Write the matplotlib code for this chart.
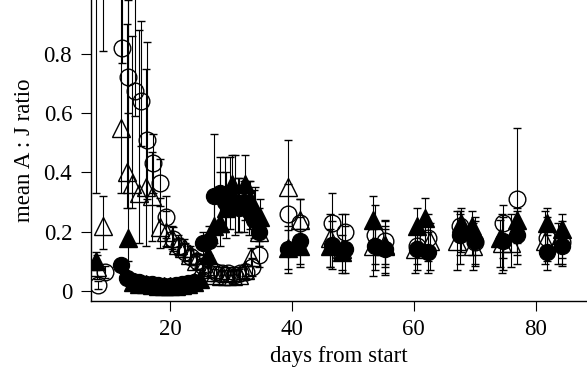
import matplotlib

matplotlib.use("Agg")
import matplotlib.pyplot as plt

# open circles
oc_day = [8.2, 9.0, 9.3, 12.1, 13.1, 14.2, 15.2, 16.2, 17.3, 18.3, 19.3, 20.5,
          21.5, 22.5, 23.5, 24.5, 25.5, 26.5, 27.5, 28.5, 29.5, 30.5, 31.5,
          32.5, 33.5, 34.6,
          39.3, 41.3, 46.6, 48.7, 53.6, 55.2, 60.5, 62.4, 67.5, 70.1, 74.6,
          77.0, 81.8, 84.3]
oc_val = [0.02, 1.20, 0.065, 0.82, 0.72, 0.675, 0.64, 0.51, 0.43, 0.365, 0.25,
          0.175, 0.15, 0.13, 0.115, 0.10, 0.085, 0.075, 0.065, 0.06, 0.06,
          0.055, 0.06, 0.065, 0.08, 0.12,
          0.26, 0.23, 0.23, 0.20, 0.19, 0.17, 0.15, 0.18, 0.22, 0.165, 0.23,
          0.31, 0.18, 0.165]
oc_lo = [0.015, 0.39, 0.02, 0.05, 0.12, 0.085, 0.15, 0.2, 0.1, 0.08, 0.07,
         0.04, 0.03, 0.03, 0.025, 0.025, 0.02, 0.02, 0.02, 0.02, 0.02, 0.02,
         0.02, 0.02, 0.03, 0.04,
         0.1, 0.1, 0.1, 0.08, 0.1, 0.08, 0.06, 0.08, 0.1, 0.08, 0.12, 0.15,
         0.08, 0.08]
oc_hi = [0.015, 0.3, 0.02, 0.6, 0.5, 0.5, 0.27, 0.33, 0.1, 0.08, 0.07, 0.04,
         0.03, 0.03, 0.025, 0.025, 0.02, 0.02, 0.02, 0.02, 0.02, 0.02, 0.02,
         0.02, 0.03, 0.05,
         0.1, 0.08, 0.1, 0.06, 0.1, 0.07, 0.06, 0.08, 0.05, 0.07, 0.06, 0.24,
         0.07, 0.07]

# open triangles
ot_day = [7.9, 8.0, 9.1, 12.0, 13.0, 13.7, 15.0, 16.0, 17.0, 18.3, 19.3, 20.3,
          21.3, 22.3, 23.3, 24.3, 25.3, 26.3, 27.3, 28.3, 29.3, 30.3, 31.3,
          32.3, 33.3, 34.6,
          39.3, 41.3, 46.2, 48.2, 53.3, 55.2, 60.2, 62.6, 67.0, 69.7, 74.4,
          76.0, 81.5, 83.6]
ot_val = [1.15, 0.08, 0.22, 0.55, 0.40, 0.36, 0.33, 0.35, 0.32, 0.215, 0.20,
          0.18, 0.155, 0.145, 0.12, 0.10, 0.08, 0.065, 0.055, 0.05, 0.05, 0.05,
          0.055, 0.07, 0.115, 0.20,
          0.35, 0.24, 0.18, 0.14, 0.15, 0.155, 0.14, 0.17, 0.17, 0.15, 0.16,
          0.16, 0.17, 0.17]
ot_lo = [0.82, 0.04, 0.08, 0.22, 0.12, 0.08, 0.17, 0.2, 0.15, 0.07, 0.05, 0.04,
         0.035, 0.03, 0.03, 0.025, 0.02, 0.02, 0.02, 0.02, 0.02, 0.02, 0.02,
         0.02, 0.03, 0.05,
         0.2, 0.1, 0.1, 0.08, 0.1, 0.1, 0.08, 0.1, 0.1, 0.08, 0.1, 0.08, 0.08,
         0.08]
ot_hi = [0.3, 0.04, 0.1, 0.6, 0.5, 0.5, 0.55, 0.4, 0.15, 0.1, 0.07, 0.04,
         0.035, 0.03, 0.03, 0.025, 0.02, 0.02, 0.02, 0.02, 0.02, 0.02, 0.02,
         0.02, 0.03, 0.05,
         0.16, 0.07, 0.08, 0.12, 0.06, 0.08, 0.06, 0.06, 0.1, 0.08, 0.1, 0.1,
         0.1, 0.06]

# filled circles
fc_day = [11.9, 13, 14, 15, 16, 17, 18, 19, 20, 21, 22, 23, 24, 25.4, 26.4,
          27.2, 28.2, 29.0, 29.8, 30.6, 31.4, 32.2, 33.0, 33.8, 34.6,
          39.3, 41.3, 46.6, 48.7, 53.6, 55.2, 60.5, 62.3, 67.5, 70.0, 74.6,
          77.0, 81.8, 84.3]
fc_val = [0.087, 0.045, 0.035, 0.03, 0.025, 0.022, 0.02, 0.018, 0.018, 0.02,
          0.022, 0.026, 0.03, 0.16, 0.17, 0.32, 0.33, 0.30, 0.31, 0.29, 0.28,
          0.30, 0.27, 0.24, 0.20,
          0.14, 0.17, 0.155, 0.14, 0.15, 0.14, 0.14, 0.13, 0.19, 0.17, 0.17,
          0.19, 0.13, 0.15]
fc_lo = [0.02, 0.01, 0.01, 0.01, 0.01, 0.01, 0.01, 0.01, 0.01, 0.01, 0.01,
         0.01, 0.01, 0.04, 0.05, 0.12, 0.1, 0.1, 0.1, 0.1, 0.08, 0.1, 0.08,
         0.06, 0.05,
         0.08, 0.08, 0.08, 0.08, 0.08, 0.08, 0.07, 0.07, 0.1, 0.08, 0.1, 0.1,
         0.06, 0.06]
fc_hi = [0.02, 0.01, 0.01, 0.01, 0.01, 0.01, 0.01, 0.01, 0.01, 0.01, 0.01,
         0.01, 0.01, 0.04, 0.05, 0.21, 0.12, 0.15, 0.14, 0.17, 0.1, 0.07,
         0.1, 0.1, 0.08,
         0.08, 0.08, 0.08, 0.08, 0.08, 0.08, 0.07, 0.07, 0.07, 0.08, 0.08,
         0.08, 0.06, 0.06]

# filled triangles
ft_day = [7.8, 13.1, 14, 15, 16, 17, 18, 19, 20, 21, 22, 23, 24, 25, 26.3,
          27.3, 28.2, 29.2, 30.1, 31.2, 32.3, 33.2, 34.0, 34.8,
          39.3, 41.3, 46.2, 48.2, 53.3, 55.2, 60.5, 61.8, 67.8, 69.5, 74.1,
          77.0, 81.8, 84.3]
ft_val = [0.10, 0.18, 0.03, 0.025, 0.022, 0.02, 0.018, 0.016, 0.016, 0.018,
          0.02, 0.025, 0.03, 0.04, 0.12, 0.22, 0.23, 0.28, 0.36, 0.30, 0.36,
          0.31, 0.27, 0.25,
          0.145, 0.15, 0.15, 0.13, 0.24, 0.15, 0.22, 0.245, 0.23, 0.22, 0.18,
          0.24, 0.23, 0.21]
ft_lo = [0.03, 0.08, 0.01, 0.01, 0.01, 0.01, 0.01, 0.01, 0.01, 0.01, 0.01,
         0.01, 0.01, 0.01, 0.04, 0.06, 0.08, 0.1, 0.1, 0.1, 0.12, 0.1, 0.08,
         0.06,
         0.07, 0.07, 0.07, 0.06, 0.1, 0.07, 0.1, 0.1, 0.1, 0.1, 0.1, 0.12,
         0.1, 0.1]
ft_hi = [0.03, 0.8, 0.01, 0.01, 0.01, 0.01, 0.01, 0.01, 0.01, 0.01, 0.01,
         0.01, 0.01, 0.01, 0.04, 0.1, 0.17, 0.12, 0.1, 0.08, 0.1, 0.06, 0.08,
         0.06,
         0.06, 0.06, 0.06, 0.06, 0.08, 0.06, 0.06, 0.07, 0.05, 0.05, 0.06,
         0.04, 0.05, 0.05]

x_ticks = [20, 40, 60, 80]
y_ticks = [0, 0.2, 0.4, 0.6, 0.8]
y_tick_labels = ["0", "0.2", "0.4", "0.6", "0.8"]

plt.rcParams["font.family"] = ["Liberation Serif", "DejaVu Serif"]

fig = plt.figure(figsize=(5.87, 3.67), dpi=100)
ax = fig.add_axes([91 / 587, 1 - 300.7 / 367, 1 - 91 / 587, 300.7 / 367])

series = [
    (fc_day, fc_val, fc_lo, fc_hi, "o", 11.5, "black"),
    (ft_day, ft_val, ft_lo, ft_hi, "^", 13, "black"),
    (oc_day, oc_val, oc_lo, oc_hi, "o", 12, "none"),
    (ot_day, ot_val, ot_lo, ot_hi, "^", 13, "none"),
]
for day, val, lo, hi, marker, size, face in series:
    ax.errorbar(day, val, yerr=[lo, hi], fmt=marker, ms=size, mfc=face,
                mec="black", mew=1.0, ecolor="black", elinewidth=0.8,
                capsize=3, capthick=0.8)

ax.set_xlim(7.05, 88.4)
ax.set_ylim(-0.033, 0.981)
ax.spines["top"].set_visible(False)
ax.spines["right"].set_visible(False)
for s in ("left", "bottom"):
    ax.spines[s].set_linewidth(1.0)
ax.set_xticks(x_ticks)
ax.set_yticks(y_ticks)
ax.set_yticklabels(y_tick_labels)
ax.tick_params(direction="out", length=7.5, width=0.8, labelsize=16.5)
ax.tick_params(axis="x", pad=6)
ax.tick_params(axis="y", pad=6)
ax.set_xlabel("days from start", fontsize=16.5, labelpad=4)
ax.set_ylabel("mean A : J ratio", fontsize=16.5, labelpad=6)

fig.savefig("out.png", dpi=100)
